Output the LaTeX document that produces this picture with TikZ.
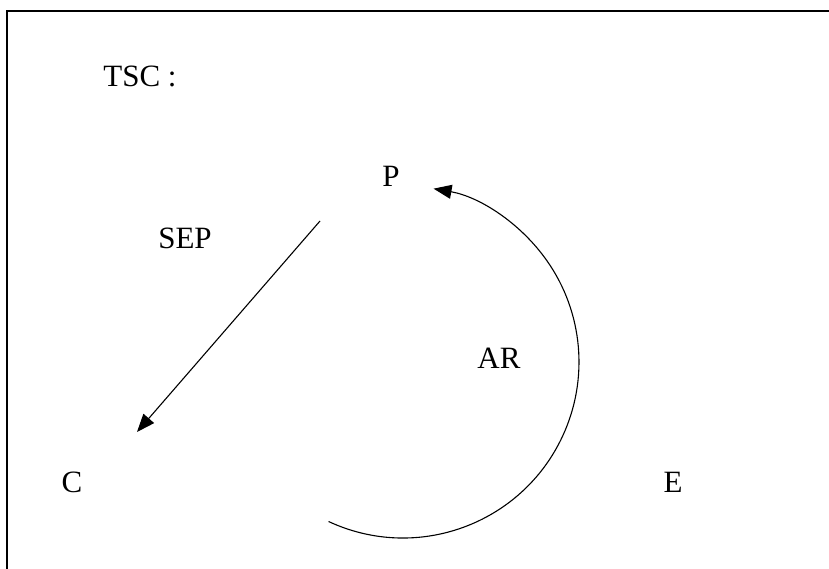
\documentclass[tikz,border=0pt]{standalone}
\usepackage{fontspec}
\setmainfont{Liberation Serif}
\usetikzlibrary{arrows.meta}
\begin{document}
\begin{tikzpicture}[x=1pt,y=-1pt,
  lbl/.style={inner sep=0pt,font=\fontsize{31}{36}\selectfont},
  conn/.style={line width=1.1pt,-{Triangle[length=18pt,width=14pt]}},
  frame/.style={line width=2.8pt}]
\useasboundingbox (0,0) rectangle (829,569);
\draw[frame] (7,569) -- (7,11) -- (829,11);
\node[lbl] (tsc) at (140,76) {TSC :};
\node[lbl] (p) at (391,176) {P};
\node[lbl] (sep) at (185,238) {SEP};
\node[lbl] (ar) at (499,358) {AR};
\node[lbl] (c) at (72,482) {C};
\node[lbl] (e) at (673,482) {E};
\coordinate (sepstart) at (320,221);
\coordinate (septip) at (137,432);
\draw[conn] (sepstart) -- (septip);
\coordinate (arcstart) at (328.6,521.5);
\draw[conn] (arcstart) arc[start angle=115, end angle=-80, radius=176];
\end{tikzpicture}
\end{document}
